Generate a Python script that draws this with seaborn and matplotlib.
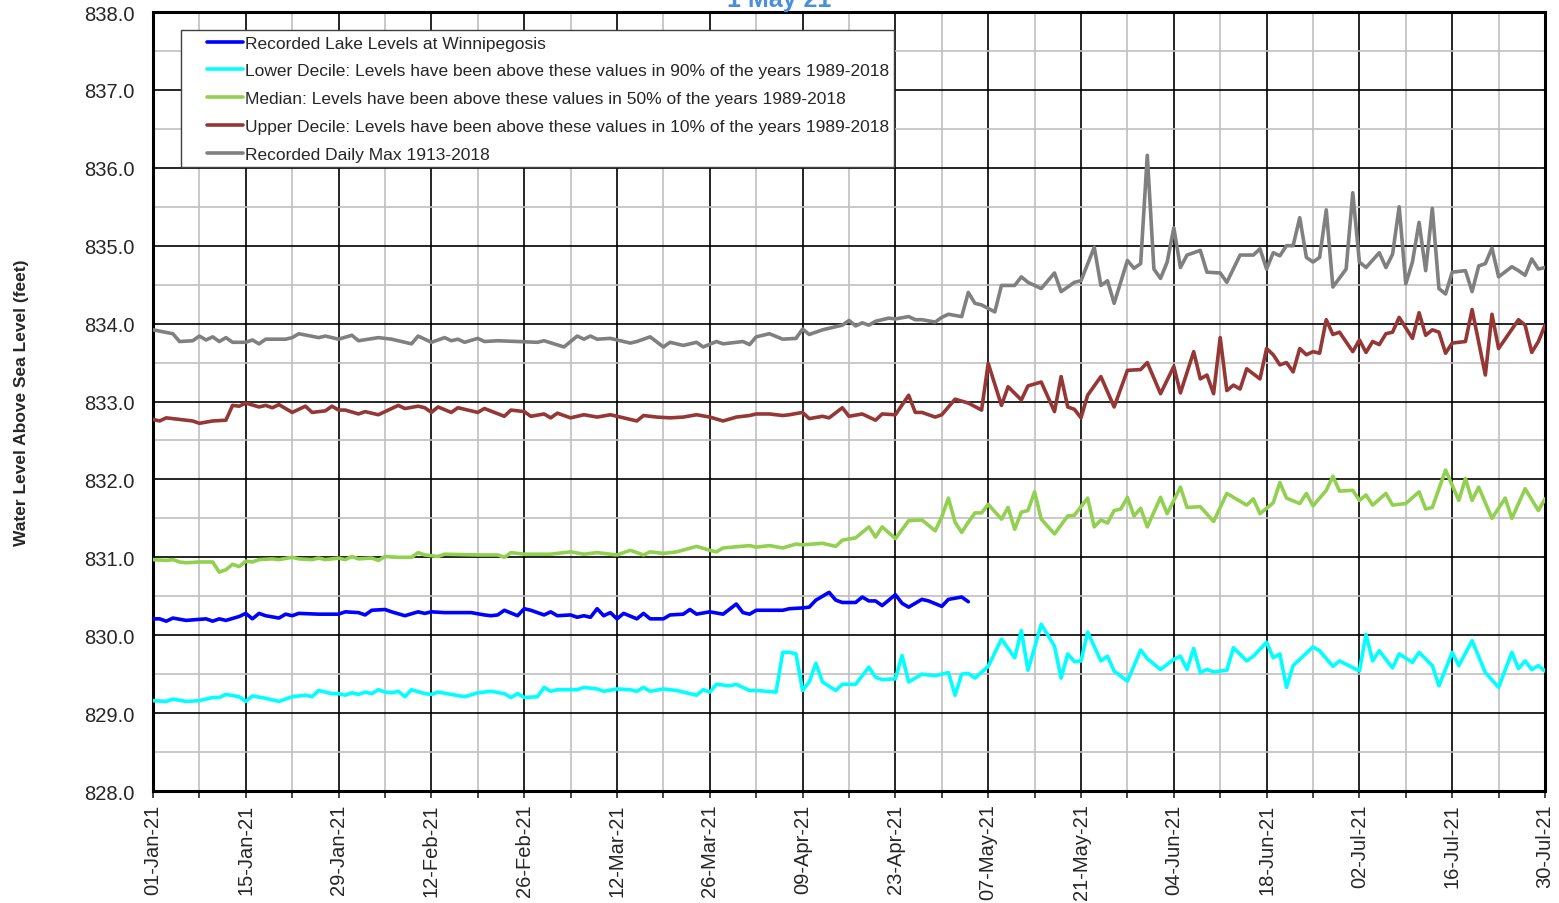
import numpy as np
import pandas as pd
import matplotlib
matplotlib.use("Agg")
import matplotlib.pyplot as plt
import matplotlib.dates as mdates
from matplotlib.ticker import MultipleLocator, FormatStrFormatter
from matplotlib.legend_handler import HandlerLine2D
import seaborn as sns

# day offsets from 01-Jan-21 and levels (feet)
max_days = [0, 3, 4, 6, 7, 8, 9, 10, 11, 12, 14, 15, 16, 17, 20, 21, 22, 25, 26, 28, 30, 31, 34, 36, 39, 40,
            42, 44, 45, 46, 47, 49, 50, 52, 55, 58, 59, 62, 64, 65, 66, 67, 69, 72, 73, 75, 77, 78, 80, 82,
            83, 85, 86, 89, 90, 91, 93, 95, 97, 98, 99, 101, 102, 104, 105, 106, 107, 108, 109, 111, 112,
            114, 115, 116, 118, 119, 120, 122, 123, 124, 125, 127, 128, 130, 131, 132, 134, 136, 137, 139,
            140, 142, 143, 144, 145, 147, 148, 149, 150, 151, 152, 153, 154, 155, 156, 158, 159, 161, 162,
            164, 166, 167, 168, 169, 170, 171, 172, 173, 174, 175, 176, 177, 178, 180, 181, 182, 183, 185,
            186, 187, 188, 189, 190, 191, 192, 193, 194, 195, 196, 198, 199, 200, 201, 202, 203, 205, 206,
            207, 208, 209, 210]
max_vals = [833.92, 833.87, 833.77, 833.78, 833.84, 833.79, 833.83, 833.77, 833.82, 833.76, 833.76, 833.79,
            833.74, 833.80, 833.80, 833.82, 833.87, 833.82, 833.84, 833.80, 833.85, 833.78, 833.82, 833.80,
            833.74, 833.84, 833.76, 833.82, 833.78, 833.80, 833.76, 833.81, 833.77, 833.78, 833.77, 833.76,
            833.78, 833.70, 833.84, 833.80, 833.84, 833.80, 833.81, 833.75, 833.77, 833.83, 833.70, 833.76,
            833.72, 833.76, 833.70, 833.77, 833.74, 833.77, 833.73, 833.83, 833.87, 833.80, 833.81, 833.93,
            833.86, 833.92, 833.94, 833.98, 834.04, 833.97, 834.01, 833.98, 834.03, 834.07, 834.06, 834.09,
            834.05, 834.05, 834.02, 834.08, 834.12, 834.09, 834.40, 834.26, 834.24, 834.15, 834.49, 834.49,
            834.60, 834.53, 834.45, 834.65, 834.41, 834.53, 834.55, 834.98, 834.49, 834.55, 834.26, 834.81,
            834.71, 834.77, 836.16, 834.70, 834.58, 834.79, 835.23, 834.72, 834.88, 834.94, 834.66, 834.65,
            834.53, 834.88, 834.88, 834.96, 834.70, 834.91, 834.87, 835.00, 835.00, 835.36, 834.85, 834.79,
            834.85, 835.46, 834.47, 834.70, 835.68, 834.79, 834.72, 834.91, 834.72, 834.89, 835.50, 834.51,
            834.79, 835.30, 834.68, 835.48, 834.45, 834.38, 834.66, 834.68, 834.41, 834.74, 834.77, 834.97,
            834.60, 834.73, 834.68, 834.62, 834.83, 834.70, 834.72]

upper_days = [0, 1, 2, 4, 6, 7, 9, 11, 12, 13, 14, 16, 17, 18, 19, 21, 23, 24, 26, 27, 28, 29, 31, 32, 34, 35,
              37, 38, 40, 41, 42, 43, 45, 46, 49, 50, 53, 54, 56, 57, 59, 60, 61, 63, 65, 67, 69, 71, 73, 74,
              76, 78, 80, 82, 84, 86, 88, 90, 91, 93, 95, 96, 98, 99, 101, 102, 104, 105, 107, 109, 110, 112,
              114, 115, 116, 118, 119, 121, 123, 125, 126, 128, 129, 131, 132, 134, 136, 137, 138, 139, 140,
              141, 143, 145, 147, 149, 150, 152, 154, 155, 157, 158, 159, 160, 161, 162, 163, 164, 165, 167,
              168, 169, 170, 171, 172, 173, 174, 175, 176, 177, 178, 179, 181, 182, 183, 184, 185, 186, 187,
              188, 190, 191, 192, 193, 194, 195, 196, 198, 199, 201, 202, 203, 206, 207, 208, 209, 210]
upper_vals = [832.77, 832.75, 832.79, 832.77, 832.75, 832.72, 832.75, 832.76, 832.95, 832.94, 832.98, 832.93,
              832.95, 832.92, 832.96, 832.86, 832.94, 832.86, 832.88, 832.94, 832.89, 832.89, 832.84, 832.87,
              832.83, 832.87, 832.95, 832.91, 832.94, 832.92, 832.86, 832.93, 832.86, 832.92, 832.86, 832.91,
              832.81, 832.89, 832.87, 832.81, 832.84, 832.79, 832.85, 832.79, 832.83, 832.80, 832.83, 832.79,
              832.75, 832.82, 832.80, 832.79, 832.80, 832.83, 832.80, 832.75, 832.80, 832.82, 832.84, 832.84,
              832.82, 832.83, 832.86, 832.78, 832.81, 832.79, 832.92, 832.81, 832.84, 832.76, 832.84, 832.83,
              833.08, 832.86, 832.86, 832.80, 832.83, 833.03, 832.98, 832.89, 833.49, 832.95, 833.19, 833.02,
              833.20, 833.25, 832.87, 833.32, 832.93, 832.90, 832.79, 833.08, 833.32, 832.93, 833.40, 833.41,
              833.50, 833.10, 833.45, 833.11, 833.64, 833.29, 833.34, 833.10, 833.82, 833.14, 833.21, 833.16,
              833.42, 833.29, 833.68, 833.60, 833.47, 833.50, 833.38, 833.68, 833.60, 833.64, 833.62, 834.05,
              833.86, 833.89, 833.64, 833.79, 833.63, 833.77, 833.73, 833.87, 833.89, 834.08, 833.81, 834.14,
              833.85, 833.92, 833.89, 833.62, 833.75, 833.77, 834.18, 833.34, 834.12, 833.68, 834.05, 833.98,
              833.63, 833.77, 833.98]

median_days = [0, 2, 3, 4, 5, 7, 9, 10, 11, 12, 13, 14, 15, 16, 18, 19, 21, 22, 24, 25, 26, 28, 29, 30, 31, 33,
               34, 35, 37, 39, 40, 41, 43, 44, 49, 52, 53, 54, 56, 60, 63, 65, 67, 70, 72, 74, 75, 77, 79, 82,
               84, 85, 86, 90, 91, 93, 95, 97, 98, 101, 103, 104, 106, 108, 109, 110, 112, 114, 116, 118, 119,
               120, 121, 122, 123, 124, 125, 126, 128, 129, 130, 131, 132, 133, 134, 136, 138, 139, 141, 142,
               143, 144, 145, 146, 147, 148, 149, 150, 152, 153, 155, 156, 158, 160, 162, 165, 166, 167, 169,
               170, 171, 173, 174, 175, 177, 178, 179, 181, 182, 183, 184, 186, 187, 189, 191, 192, 193, 195,
               197, 198, 199, 200, 202, 204, 205, 207, 209, 210]
median_vals = [830.97, 830.96, 830.97, 830.94, 830.93, 830.94, 830.94, 830.81, 830.84, 830.91, 830.88, 830.95,
               830.94, 830.97, 830.98, 830.97, 831.00, 830.98, 830.97, 830.99, 830.97, 830.99, 830.97, 831.01,
               830.98, 830.99, 830.96, 831.01, 831.00, 831.00, 831.06, 831.03, 831.01, 831.04, 831.03, 831.03,
               831.00, 831.06, 831.04, 831.04, 831.07, 831.04, 831.06, 831.03, 831.09, 831.03, 831.07, 831.05,
               831.07, 831.14, 831.09, 831.07, 831.12, 831.15, 831.13, 831.15, 831.12, 831.17, 831.16, 831.18,
               831.14, 831.22, 831.25, 831.39, 831.26, 831.39, 831.24, 831.47, 831.48, 831.34, 831.52, 831.76,
               831.45, 831.32, 831.45, 831.57, 831.57, 831.68, 831.49, 831.64, 831.36, 831.58, 831.60, 831.84,
               831.49, 831.30, 831.53, 831.54, 831.76, 831.39, 831.48, 831.44, 831.60, 831.62, 831.77, 831.53,
               831.63, 831.39, 831.77, 831.56, 831.90, 831.64, 831.65, 831.46, 831.82, 831.67, 831.75, 831.56,
               831.70, 831.96, 831.76, 831.69, 831.82, 831.66, 831.86, 832.04, 831.85, 831.86, 831.73, 831.80,
               831.67, 831.82, 831.67, 831.69, 831.84, 831.62, 831.64, 832.12, 831.73, 832.01, 831.73, 831.90,
               831.50, 831.76, 831.50, 831.88, 831.60, 831.75]

lower_days = [0, 2, 3, 5, 7, 9, 10, 11, 13, 14, 15, 17, 19, 21, 23, 24, 25, 27, 28, 29, 30, 31, 32, 33, 34, 35,
              36, 37, 38, 39, 41, 42, 43, 47, 49, 51, 53, 54, 55, 56, 58, 59, 60, 61, 64, 65, 67, 68, 70, 72,
              73, 74, 75, 77, 79, 82, 83, 84, 85, 87, 88, 90, 91, 94, 95, 96, 97, 98, 99, 100, 101, 103, 104,
              106, 108, 109, 110, 112, 113, 114, 116, 118, 120, 121, 122, 123, 124, 126, 128, 129, 130, 131,
              132, 133, 134, 136, 137, 138, 139, 140, 141, 143, 144, 145, 147, 149, 150, 152, 154, 155, 156,
              157, 158, 159, 160, 162, 163, 165, 166, 168, 169, 170, 171, 172, 175, 176, 178, 179, 182, 183,
              184, 185, 187, 188, 190, 191, 193, 194, 196, 197, 199, 201, 203, 205, 206, 207, 208, 209, 210]
lower_vals = [829.16, 829.15, 829.18, 829.15, 829.16, 829.20, 829.20, 829.24, 829.21, 829.15, 829.22, 829.19,
              829.15, 829.21, 829.23, 829.21, 829.29, 829.25, 829.25, 829.23, 829.26, 829.24, 829.27, 829.25,
              829.30, 829.27, 829.26, 829.28, 829.21, 829.30, 829.25, 829.24, 829.27, 829.21, 829.26, 829.28,
              829.25, 829.20, 829.25, 829.20, 829.21, 829.33, 829.28, 829.30, 829.30, 829.33, 829.31, 829.28,
              829.31, 829.30, 829.28, 829.33, 829.28, 829.31, 829.29, 829.23, 829.30, 829.27, 829.37, 829.35,
              829.37, 829.29, 829.29, 829.27, 829.78, 829.78, 829.76, 829.29, 829.40, 829.64, 829.40, 829.29,
              829.37, 829.37, 829.59, 829.46, 829.43, 829.44, 829.74, 829.40, 829.50, 829.48, 829.52, 829.23,
              829.50, 829.51, 829.45, 829.60, 829.95, 829.83, 829.71, 830.06, 829.55, 829.84, 830.14, 829.86,
              829.45, 829.76, 829.66, 829.67, 830.04, 829.67, 829.73, 829.54, 829.41, 829.81, 829.70, 829.56,
              829.69, 829.73, 829.56, 829.83, 829.52, 829.56, 829.53, 829.55, 829.84, 829.67, 829.73, 829.91,
              829.71, 829.76, 829.33, 829.61, 829.85, 829.80, 829.60, 829.67, 829.54, 830.01, 829.67, 829.80,
              829.58, 829.76, 829.65, 829.78, 829.61, 829.35, 829.78, 829.61, 829.93, 829.52, 829.33, 829.78,
              829.57, 829.67, 829.56, 829.61, 829.54]

recorded_days = [0, 1, 2, 3, 5, 8, 9, 10, 11, 13, 14, 15, 16, 17, 19, 20, 21, 22, 25, 28, 29, 31, 32, 33, 35,
                 36, 38, 40, 41, 42, 44, 48, 50, 51, 52, 53, 55, 56, 57, 59, 60, 61, 63, 64, 65, 66, 67, 68,
                 69, 70, 71, 73, 74, 75, 77, 78, 80, 81, 82, 84, 86, 88, 89, 90, 91, 95, 96, 98, 99, 100, 102,
                 103, 104, 106, 107, 108, 109, 110, 112, 113, 114, 116, 117, 119, 120, 122, 123]
recorded_vals = [830.21, 830.21, 830.18, 830.22, 830.19, 830.21, 830.18, 830.21, 830.19, 830.24, 830.28,
                 830.21, 830.28, 830.25, 830.22, 830.27, 830.25, 830.28, 830.27, 830.27, 830.30, 830.29,
                 830.26, 830.32, 830.33, 830.30, 830.25, 830.30, 830.28, 830.30, 830.29, 830.29, 830.26,
                 830.25, 830.26, 830.32, 830.25, 830.34, 830.32, 830.26, 830.30, 830.25, 830.26, 830.23,
                 830.25, 830.23, 830.34, 830.25, 830.29, 830.21, 830.28, 830.21, 830.28, 830.21, 830.21,
                 830.26, 830.27, 830.33, 830.27, 830.30, 830.27, 830.40, 830.29, 830.27, 830.32, 830.32,
                 830.34, 830.35, 830.36, 830.45, 830.55, 830.45, 830.42, 830.42, 830.49, 830.44, 830.44,
                 830.38, 830.52, 830.41, 830.36, 830.46, 830.44, 830.37, 830.46, 830.49, 830.43]

labels = [
    "Recorded Lake Levels at Winnipegosis",
    "Lower Decile: Levels have been above these values in 90% of the years 1989-2018",
    "Median: Levels have been above these values in 50% of the years 1989-2018",
    "Upper Decile: Levels have been above these values in 10% of the years 1989-2018",
    "Recorded Daily Max 1913-2018",
]
colors = ["#0000ff", "#00ffff", "#92d050", "#953735", "#808080"]
start = pd.Timestamp("2021-01-01")


class InsetLine(HandlerLine2D):
    # legend line drawn only over the right part of the handle box
    def get_xdata(self, legend, xdescent, ydescent, width, height, fontsize):
        xd = np.array([0.36 * width, width]) - xdescent
        return xd, xd


sns.set_style("white")
plt.rcParams["font.family"] = ["Liberation Sans", "DejaVu Sans"]

fig = plt.figure(figsize=(15.59, 9.04), dpi=100)
ax = fig.add_axes([153 / 1559, 1 - 792 / 904, 1392 / 1559, 779 / 904])

series = [(recorded_days, recorded_vals), (lower_days, lower_vals), (median_days, median_vals),
          (upper_days, upper_vals), (max_days, max_vals)]
for (d, v), lab, c in zip(series, labels, colors):
    df = pd.DataFrame({"date": start + pd.to_timedelta(d, unit="D"), "level": v})
    sns.lineplot(data=df, x="date", y="level", ax=ax, color=c, linewidth=2.6,
                 label=lab, estimator=None, solid_joinstyle="round", solid_capstyle="round", zorder=3)

ax.set_xlim(start, pd.Timestamp("2021-07-30"))
ax.set_ylim(828, 838)
ax.set_xticks(pd.date_range("2021-01-01", "2021-07-30", freq="14D"))
ax.set_xticks(pd.date_range("2021-01-08", "2021-07-30", freq="14D"), minor=True)
ax.xaxis.set_major_formatter(mdates.DateFormatter("%d-%b-%y"))
ax.yaxis.set_major_locator(MultipleLocator(1))
ax.yaxis.set_minor_locator(MultipleLocator(0.5))
ax.yaxis.set_major_formatter(FormatStrFormatter("%.1f"))
ax.grid(which="major", color="black", linewidth=1.2)
ax.grid(which="minor", color="#c0c0c0", linewidth=1.2)
ax.set_axisbelow(True)
for s in ax.spines.values():
    s.set_linewidth(2.2)
    s.set_color("black")
ax.tick_params(axis="x", which="both", direction="out", length=5, width=1.2, labelsize=14.5,
               labelrotation=90, bottom=True, pad=4)
ax.tick_params(axis="y", which="major", labelsize=14.5, length=0, pad=13)
ax.tick_params(axis="y", which="minor", length=0)
ax.set_xlabel("")
ax.set_ylabel("Water Level Above Sea Level (feet)", fontsize=12.5, fontweight="bold", labelpad=40)

handles, _ = ax.get_legend_handles_labels()
leg = ax.legend(handles, labels, loc="upper left", bbox_to_anchor=(0.0201, 0.977), fontsize=12.5,
                frameon=True, fancybox=False, edgecolor="#404040", framealpha=1, handlelength=3.25,
                handletextpad=0.1, labelspacing=0.73, borderpad=0.32, borderaxespad=0,
                handler_map={h: InsetLine() for h in handles})
leg.get_frame().set_linewidth(1.0)

fig.text(0.5, 1 - 7 / 904, "1 May 21", ha="center", va="baseline", fontsize=18, fontweight="bold",
         color="#4a8fdf")

fig.savefig("out.png", dpi=100)
